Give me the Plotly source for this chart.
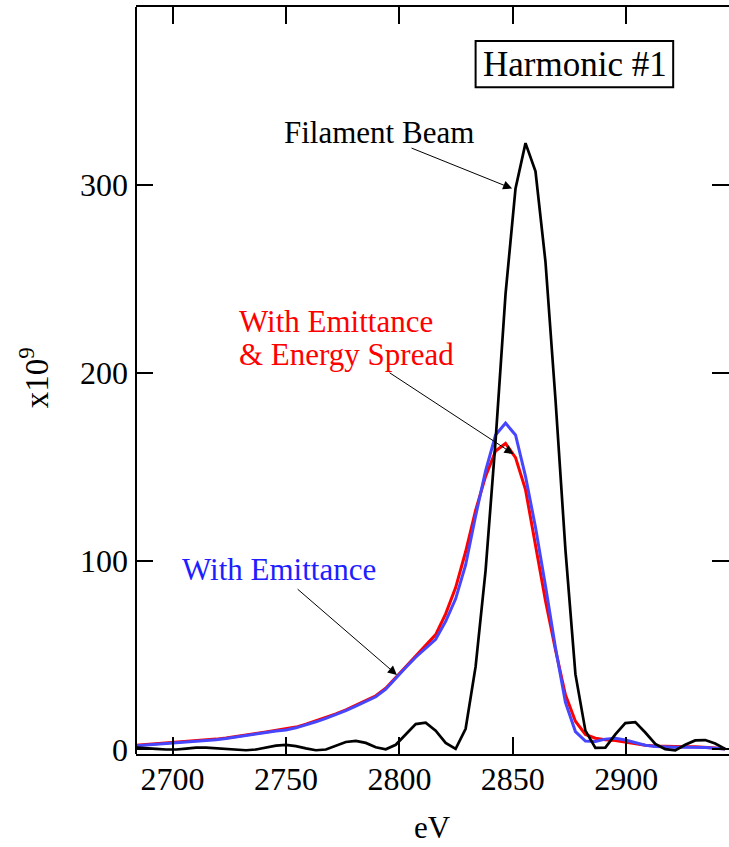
import plotly.graph_objects as go

# ---- data ----
energy_ev = [2684.0, 2688.4, 2692.8, 2697.2, 2701.6, 2706.0, 2710.4, 2714.8, 2719.2, 2723.6,
             2728.0, 2732.4, 2736.8, 2741.2, 2745.6, 2750.0, 2754.4, 2758.8, 2763.2, 2767.6,
             2772.0, 2776.4, 2780.8, 2785.2, 2789.6, 2794.0, 2798.4, 2802.8, 2807.2, 2811.6,
             2816.0, 2820.4, 2824.8, 2829.2, 2833.6, 2838.0, 2842.4, 2846.8, 2851.2, 2855.6,
             2860.0, 2864.4, 2868.8, 2873.2, 2877.6, 2882.0, 2886.4, 2890.8, 2895.2, 2899.6,
             2904.0, 2908.4, 2912.8, 2917.2, 2921.6, 2926.0, 2930.4, 2934.8, 2939.2, 2943.6]

filament_beam = [1.0, 0.8, 0.3, 0.0, 0.0, 0.5, 1.0, 1.0, 0.7, 0.2,
                 -0.2, -0.4, 0.0, 1.0, 2.0, 2.4, 1.8, 0.6, -0.4, 0.0,
                 2.0, 4.0, 4.6, 3.5, 1.2, 0.1, 2.5, 8.0, 13.5, 14.2,
                 10.0, 3.5, 0.3, 11.0, 44.0, 95.0, 164.0, 242.0, 298.0, 322.0,
                 307.0, 259.0, 186.0, 106.0, 40.0, 10.0, 0.8, 1.0, 8.0, 14.0,
                 14.5, 9.0, 3.0, 0.2, -0.5, 2.5, 4.8, 5.0, 3.2, 0.3]

with_emittance = [2.0, 2.4, 2.8, 3.1, 3.4, 3.8, 4.2, 4.7, 5.2, 5.8,
                  6.5, 7.3, 8.2, 9.0, 9.8, 10.4, 11.5, 13.0, 14.7, 16.5,
                  18.5, 20.6, 23.0, 25.3, 28.0, 32.0, 38.0, 43.5, 49.0, 53.5,
                  58.5, 68.0, 80.0, 98.0, 124.0, 148.0, 167.0, 173.3, 167.0, 145.0,
                  118.0, 87.0, 54.0, 25.0, 9.5, 4.5, 4.2, 5.5, 6.0, 5.0,
                  3.5, 2.3, 1.6, 1.3, 1.2, 1.2, 1.2, 1.0, 0.6, 0.2]

with_emittance_spread = [2.3, 2.7, 3.1, 3.4, 3.7, 4.1, 4.5, 5.0, 5.5, 6.1,
                         6.8, 7.6, 8.5, 9.3, 10.1, 10.8, 11.9, 13.4, 15.1, 16.9,
                         18.9, 21.0, 23.4, 25.8, 28.5, 32.5, 38.3, 44.0, 49.8, 55.5,
                         61.0, 72.0, 86.0, 105.0, 127.0, 145.0, 158.5, 162.5, 155.0, 138.0,
                         109.0, 79.0, 53.0, 29.0, 15.0, 8.0, 6.0, 5.2, 4.8, 4.0,
                         2.9, 2.2, 1.8, 1.6, 1.5, 1.4, 1.4, 1.2, 0.8, 0.3]

x_ticks = [2700, 2750, 2800, 2850, 2900]
y_ticks = [0, 100, 200, 300]

FONT = "Liberation Serif"

fig = go.Figure()
fig.add_trace(go.Scatter(x=energy_ev, y=with_emittance_spread, mode="lines",
                         line=dict(color="#ff0000", width=3), name="With Emittance & Energy Spread"))
fig.add_trace(go.Scatter(x=energy_ev, y=with_emittance, mode="lines",
                         line=dict(color="#4646ff", width=3), name="With Emittance"))
fig.add_trace(go.Scatter(x=energy_ev, y=filament_beam, mode="lines",
                         line=dict(color="#000000", width=2.7), name="Filament Beam"))

axis_common = dict(ticks="inside", ticklen=17, tickwidth=1.5, tickcolor="black",
                   showgrid=False, zeroline=False,
                   tickfont=dict(family=FONT, size=32, color="black"))

fig.update_layout(
    width=729, height=847,
    margin=dict(l=136, r=0, t=7, b=93),
    paper_bgcolor="white", plot_bgcolor="white",
    showlegend=False,
    xaxis=dict(range=[2683.9, 2945.3], tickvals=x_ticks, showline=True, linewidth=2,
               linecolor="black", mirror="ticks", ticklabelstandoff=-4, **axis_common),
    yaxis=dict(range=[-2.4, 394.3], tickvals=y_ticks, showline=False,
               mirror="ticks", ticklabelstandoff=7, **axis_common),
)

# left axis line
fig.add_shape(type="line", xref="paper", yref="paper", x0=0, x1=0, y0=0, y1=1,
              line=dict(color="black", width=2))
# Harmonic box
fig.add_shape(type="rect", xref="x", yref="y", x0=2833.6, x1=2920.7, y0=351.7, y1=376.2,
              line=dict(color="black", width=2), fillcolor="white", layer="above")

ann = []
ann.append(dict(x=2877.2, y=363.9, xref="x", yref="y", text="Harmonic #1", showarrow=False,
                font=dict(family=FONT, size=35, color="black"), xanchor="center", yanchor="middle"))
ann.append(dict(x=2791.0, y=327.6, xref="x", yref="y", text="Filament Beam", showarrow=False,
                font=dict(family=FONT, size=31, color="black"), xanchor="center", yanchor="middle"))
ann.append(dict(x=2728.4, y=227.2, xref="x", yref="y", text="With Emittance", showarrow=False,
                font=dict(family=FONT, size=31, color="#ff0000"), xanchor="left", yanchor="middle"))
ann.append(dict(x=2728.4, y=209.7, xref="x", yref="y", text="&amp; Energy Spread", showarrow=False,
                font=dict(family=FONT, size=31, color="#ff0000"), xanchor="left", yanchor="middle"))
ann.append(dict(x=2703.3, y=95.4, xref="x", yref="y", text="With Emittance", showarrow=False,
                font=dict(family=FONT, size=31, color="#1e1eff"), xanchor="left", yanchor="middle"))

arrow_style = dict(xref="x", yref="y", axref="x", ayref="y", text=" ", showarrow=True,
                   arrowhead=2, arrowsize=1.8, arrowwidth=1, arrowcolor="black",
                   standoff=0, startstandoff=0, font=dict(size=1))
ann.append(dict(x=2849.7, y=297.9, ax=2804.7, ay=319.7, **arrow_style))
ann.append(dict(x=2850.3, y=156.9, ax=2795.0, ay=200.6, **arrow_style))
ann.append(dict(x=2798.9, y=39.6, ax=2754.5, ay=85.8, **arrow_style))

# axis titles
ann.append(dict(x=0.5, y=-0.099, xref="paper", yref="paper", text="eV", showarrow=False,
                font=dict(family=FONT, size=31, color="black"), xanchor="center", yanchor="middle"))
ann.append(dict(x=-0.172, y=0.503, xref="paper", yref="paper", text="x10<sup>9</sup>",
                showarrow=False, textangle=-90,
                font=dict(family=FONT, size=33, color="black"), xanchor="center", yanchor="middle"))

fig.update_layout(annotations=ann)

fig.write_html("out.html")
